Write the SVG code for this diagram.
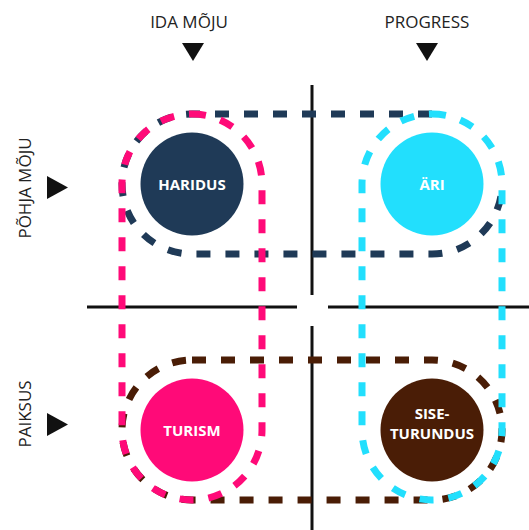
<svg xmlns="http://www.w3.org/2000/svg" width="529" height="530" viewBox="0 0 529 530">
<style>
.lbl{font-family:"Open Sans","Liberation Sans",sans-serif;font-size:17px;fill:#222;text-anchor:middle}
.nlbl{font-family:"Open Sans","Liberation Sans",sans-serif;font-size:15px;font-weight:700;fill:#fff;text-anchor:middle}
.dash{fill:none;stroke-width:7;stroke-dasharray:14 15}
.axis{stroke:#111;stroke-width:3}
.tri{fill:#111}
</style>
<rect width="529" height="530" fill="#fff"/>
<g id="axes">
<line class="axis" x1="312" y1="85" x2="312" y2="295"/>
<line class="axis" x1="312" y1="326" x2="312" y2="530"/>
<line class="axis" x1="87" y1="307" x2="297" y2="307"/>
<line class="axis" x1="328" y1="307" x2="529" y2="307"/>
</g>
<g id="labels">
<text class="lbl" x="189" y="28">IDA MÕJU</text>
<polygon class="tri" points="182,43 204,43 193,61"/>
<text class="lbl" x="427" y="28">PROGRESS</text>
<polygon class="tri" points="416,43 438,43 427,61"/>
<text class="lbl" transform="translate(31,188) rotate(-90)">PÕHJA MÕJU</text>
<polygon class="tri" points="47,176 47,199 68,187.5"/>
<text class="lbl" transform="translate(31,414) rotate(-90)">PAIKSUS</text>
<polygon class="tri" points="47,413 47,436 68,424.5"/>
</g>
<g id="connectors">
<path class="dash" stroke="#1f3a57" d="M432 114 H192 A70 70 0 0 0 192 254 H432 A70 70 0 0 0 502 184"/>
<rect class="dash" stroke="#4a1d06" x="122" y="360" width="380" height="140" rx="70"/>
<rect class="dash" stroke="#ff0a78" x="122" y="114" width="140" height="386" rx="70"/>
<rect class="dash" stroke="#22dffd" x="362" y="114" width="140" height="386" rx="70"/>
</g>
<g id="haridus">
<circle cx="192" cy="184" r="51.5" fill="#1f3a57"/>
<text class="nlbl" x="192" y="189.5">HARIDUS</text>
</g>
<g id="ari">
<circle cx="432" cy="184" r="51.5" fill="#22dffd"/>
<text class="nlbl" x="432" y="189.5">ÄRI</text>
</g>
<g id="turism">
<circle cx="192" cy="430" r="51.5" fill="#ff0a78"/>
<text class="nlbl" x="192" y="436">TURISM</text>
</g>
<g id="siseturundus">
<circle cx="432" cy="430" r="51.5" fill="#4a1d06"/>
<text class="nlbl" x="432" y="418.5">SISE-</text>
<text class="nlbl" x="432" y="439">TURUNDUS</text>
</g>
</svg>
